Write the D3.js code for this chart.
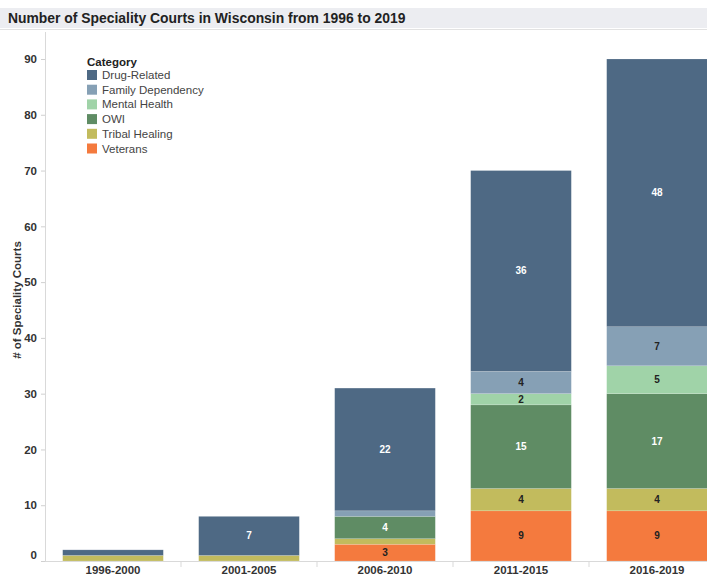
<!DOCTYPE html>
<html>
<head>
<meta charset="utf-8">
<script src="https://cdn.jsdelivr.net/npm/d3@7"></script>
<style>
  body { margin: 0; background: #fff; }
  svg { font-family: "Liberation Sans", Arial, sans-serif; }
</style>
</head>
<body>
<svg id="chart"></svg>
<script>
// periods on the x axis
const periods = ["1996-2000", "2001-2005", "2006-2010", "2011-2015", "2016-2019"];
// stack order, bottom to top
const categories = ["Veterans", "Tribal Healing", "OWI", "Mental Health", "Family Dependency", "Drug-Related"];
const legendOrder = ["Drug-Related", "Family Dependency", "Mental Health", "OWI", "Tribal Healing", "Veterans"];

const veterans = [0, 0, 3, 9, 9];
const tribalHealing = [1, 1, 1, 4, 4];
const owi = [0, 0, 4, 15, 17];
const mentalHealth = [0, 0, 0, 2, 5];
const familyDependency = [0, 0, 1, 4, 7];
const drugRelated = [1, 7, 22, 36, 48];

const yTicks = [0, 10, 20, 30, 40, 50, 60, 70, 80, 90];

const series = {
  "Veterans": veterans,
  "Tribal Healing": tribalHealing,
  "OWI": owi,
  "Mental Health": mentalHealth,
  "Family Dependency": familyDependency,
  "Drug-Related": drugRelated
};

const rows = periods.map(function (p, i) {
  const r = { period: p };
  categories.forEach(function (c) { r[c] = series[c][i]; });
  return r;
});

const W = 707, H = 576;
const svg = d3.select("#chart").attr("width", W).attr("height", H);

const color = d3.scaleOrdinal()
  .domain(legendOrder)
  .range(["#4e6984", "#86a0b5", "#a0d3a8", "#5f8c64", "#c2bb5d", "#f47a3e"]);
const lightLabel = ["Drug-Related", "OWI"];

// title bar
svg.append("rect").attr("x", 0).attr("y", 8).attr("width", W).attr("height", 20).attr("fill", "#ecedf1");
svg.append("line").attr("x1", 0).attr("x2", W).attr("y1", 29.5).attr("y2", 29.5).attr("stroke", "#e2e2e2");
svg.append("text")
  .attr("x", 8).attr("y", 23)
  .attr("font-size", 13.9).attr("font-weight", "bold").attr("fill", "#222")
  .text("Number of Speciality Courts in Wisconsin from 1996 to 2019");

const x = d3.scaleBand()
  .domain(periods)
  .range([45, 725])
  .paddingInner(0.26)
  .paddingOuter(0.13);

const y = d3.scaleLinear()
  .domain([0, 90])
  .range([561, 59]);

// axis lines
svg.append("line").attr("x1", 45.5).attr("x2", 45.5).attr("y1", 32).attr("y2", 561)
  .attr("stroke", "#d9d9d9");
svg.append("line").attr("x1", 45).attr("x2", W).attr("y1", 561.5).attr("y2", 561.5)
  .attr("stroke", "#d9d9d9");

// y axis
const yAxis = svg.append("g")
  .attr("transform", "translate(45,0)")
  .call(d3.axisLeft(y).tickValues(yTicks).tickSize(4).tickPadding(4));
yAxis.select(".domain").remove();
yAxis.selectAll(".tick line").attr("stroke", "#d0d0d0");
yAxis.selectAll(".tick text")
  .attr("font-size", 11.5).attr("font-weight", "bold").attr("fill", "#333")
  .attr("font-family", "Liberation Sans, Arial, sans-serif")
  .attr("dy", function (d) { return d === 0 ? "-0.25em" : "0.32em"; });

svg.append("text")
  .attr("transform", "translate(21,300) rotate(-90)")
  .attr("text-anchor", "middle")
  .attr("font-size", 11.5).attr("font-weight", "bold").attr("fill", "#333")
  .text("# of Speciality Courts");

// x axis separators and labels
svg.selectAll(".sep")
  .data(periods.slice(1))
  .join("line")
  .attr("x1", function (d) { return x(d) - x.step() * x.paddingInner() / 2; })
  .attr("x2", function (d) { return x(d) - x.step() * x.paddingInner() / 2; })
  .attr("y1", 561).attr("y2", 567)
  .attr("stroke", "#d9d9d9");

svg.selectAll(".xlab")
  .data(periods)
  .join("text")
  .attr("x", function (d) { return x(d) + x.bandwidth() / 2; })
  .attr("y", 574)
  .attr("text-anchor", "middle")
  .attr("font-size", 11.5).attr("font-weight", "bold").attr("fill", "#333")
  .text(function (d) { return d; });

// stacked bars
const stacked = d3.stack().keys(categories)(rows);

const layer = svg.selectAll(".layer")
  .data(stacked)
  .join("g")
  .attr("fill", function (d) { return color(d.key); });

layer.selectAll("rect")
  .data(function (d) { return d; })
  .join("rect")
  .attr("x", function (d) { return x(d.data.period); })
  .attr("width", x.bandwidth())
  .attr("y", function (d) { return y(d[1]); })
  .attr("height", function (d) { return y(d[0]) - y(d[1]); })
  .attr("stroke", "#ffffff")
  .attr("stroke-opacity", 0.25)
  .attr("stroke-width", 0.6);

// segment labels (segments of 1 are too thin to label)
stacked.forEach(function (s) {
  svg.selectAll(null)
    .data(s.filter(function (d) { return d[1] - d[0] > 1; }))
    .join("text")
    .attr("x", function (d) { return x(d.data.period) + x.bandwidth() / 2; })
    .attr("y", function (d) { return (y(d[0]) + y(d[1])) / 2; })
    .attr("dy", "0.35em")
    .attr("text-anchor", "middle")
    .attr("font-size", 10).attr("font-weight", "bold")
    .attr("fill", lightLabel.includes(s.key) ? "#ffffff" : "#222")
    .text(function (d) { return d[1] - d[0]; });
});

// legend
const legend = svg.append("g").attr("transform", "translate(87,0)");
legend.append("text")
  .attr("x", 0).attr("y", 66)
  .attr("font-size", 11.5).attr("font-weight", "bold").attr("fill", "#222")
  .text("Category");
legend.selectAll("rect")
  .data(legendOrder)
  .join("rect")
  .attr("x", 0)
  .attr("y", function (d, i) { return 70 + i * 14.7; })
  .attr("width", 10).attr("height", 10)
  .attr("fill", function (d) { return color(d); });
legend.selectAll(".lt")
  .data(legendOrder)
  .join("text")
  .attr("x", 15)
  .attr("y", function (d, i) { return 75 + i * 14.7; })
  .attr("dy", "0.35em")
  .attr("font-size", 11.5).attr("fill", "#444")
  .text(function (d) { return d; });
</script>
</body>
</html>
